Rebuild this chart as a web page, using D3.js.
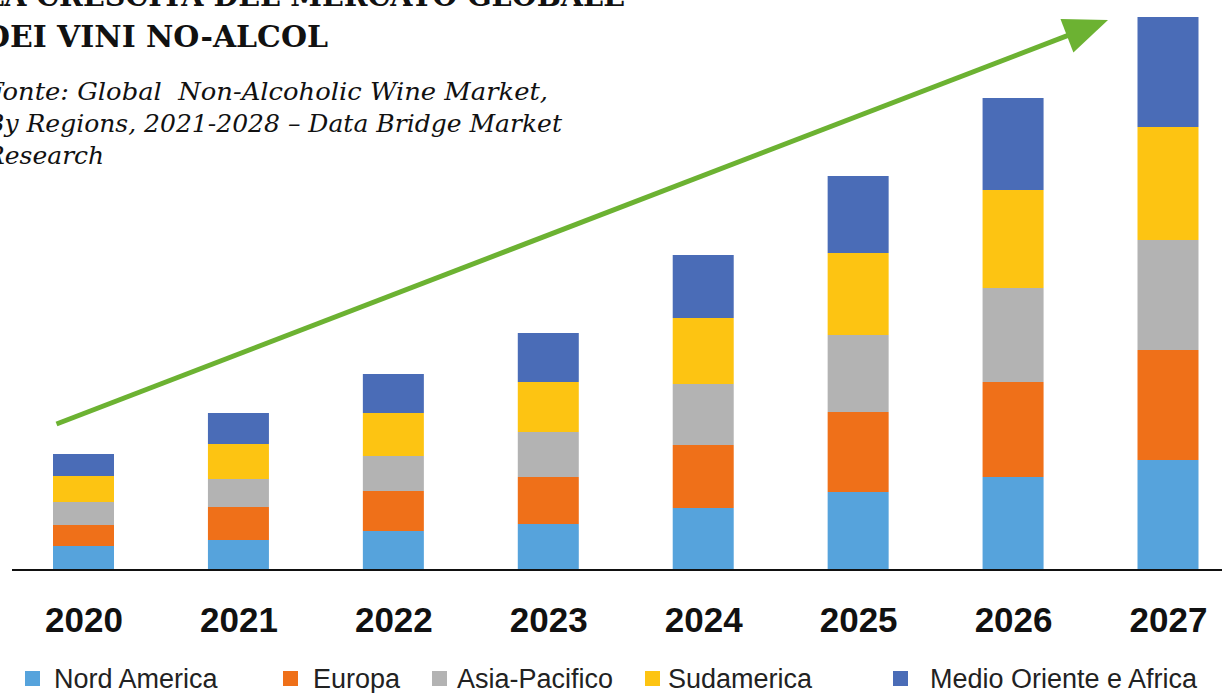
<!DOCTYPE html>
<html>
<head>
<meta charset="utf-8">
<script src="https://cdn.jsdelivr.net/npm/d3@7"></script>
<style>
  html, body { margin: 0; padding: 0; background: #ffffff; }
  svg { display: block; }
  text { white-space: pre; }
</style>
</head>
<body>
<svg id="chart" width="1222" height="693"></svg>
<script>
// ---- Data (arbitrary units) ----
const years = ["2020", "2021", "2022", "2023", "2024", "2025", "2026", "2027"];
const seriesNames = ["Nord America", "Europa", "Asia-Pacifico", "Sudamerica", "Medio Oriente e Africa"];
const nordAmerica   = [24, 30, 39, 46, 62, 78, 93, 110];
const europa        = [21, 33, 40, 47, 63, 80, 95, 110];
const asiaPacifico  = [23, 28, 35, 45, 61, 77, 94, 110];
const sudamerica    = [26, 35, 43, 50, 66, 82, 98, 113];
const medioOriente  = [22, 31, 39, 49, 63, 77, 92, 110];
const colors = ["#56a3dc", "#ef7019", "#b3b3b3", "#fdc412", "#4a6cb7"];
const titleLines = ["LA CRESCITA DEL MERCATO GLOBALE", "DEI VINI NO-ALCOL"];
const sourceLines = ["Fonte: Global  Non-Alcoholic Wine Market,", "By Regions, 2021-2028 \u2013 Data Bridge Market", "Research"];

const svg = d3.select("#chart");
const W = 1222, H = 693;
const baseY = 570, topY = 17;

const table = years.map((yr, i) => ({
  year: yr,
  "Nord America": nordAmerica[i],
  "Europa": europa[i],
  "Asia-Pacifico": asiaPacifico[i],
  "Sudamerica": sudamerica[i],
  "Medio Oriente e Africa": medioOriente[i]
}));
const stack = d3.stack().keys(seriesNames)(table);
const maxTotal = d3.max(stack[stack.length - 1], d => d[1]);

const x = d3.scalePoint().domain(years).range([83.5, 1168]);
const barW = 61;
const y = d3.scaleLinear().domain([0, maxTotal]).range([baseY, topY]);
const color = d3.scaleOrdinal().domain(seriesNames).range(colors);

// Bars
svg.append("g").selectAll("g").data(stack).join("g")
  .attr("fill", d => color(d.key))
  .selectAll("rect").data(d => d).join("rect")
  .attr("x", d => x(d.data.year) - barW / 2)
  .attr("width", barW)
  .attr("y", d => y(d[1]))
  .attr("height", d => y(d[0]) - y(d[1]));

// Baseline + year labels
const xAxis = d3.axisBottom(x).tickSize(0).tickPadding(37);
const axisG = svg.append("g").attr("transform", `translate(0,${baseY})`).call(xAxis);
axisG.select(".domain").remove();
axisG.append("line").attr("x1", 12).attr("x2", W).attr("y1", 0).attr("y2", 0)
  .attr("stroke", "#111").attr("stroke-width", 2);
axisG.selectAll(".tick text")
  .attr("font-family", "'Liberation Sans', Arial, sans-serif")
  .attr("font-weight", 700)
  .attr("font-size", 35)
  .attr("fill", "#111");

// Growth arrow (from above the first bar to beside the last bar)
const arrowStart = { year: "2020", value: 146, dx: -27 };
const arrowEnd = { year: "2027", value: 550, dx: -60 };
const sx = x(arrowStart.year) + arrowStart.dx, sy = y(arrowStart.value);
const ex = x(arrowEnd.year) + arrowEnd.dx, ey = y(arrowEnd.value);
const ang = Math.atan2(ey - sy, ex - sx);
const headL = 44, headW = 18;
const bx = ex - Math.cos(ang) * headL, by = ey - Math.sin(ang) * headL;
const green = "#6cb232";
svg.append("line")
  .attr("x1", sx).attr("y1", sy)
  .attr("x2", ex - Math.cos(ang) * (headL - 4)).attr("y2", ey - Math.sin(ang) * (headL - 4))
  .attr("stroke", green).attr("stroke-width", 5);
svg.append("path")
  .attr("d", d3.line()([
    [ex, ey],
    [bx + Math.sin(ang) * headW, by - Math.cos(ang) * headW],
    [bx - Math.sin(ang) * headW, by + Math.cos(ang) * headW]
  ]) + "Z")
  .attr("fill", green);

// Title
const titleLen = [641, 344];
svg.append("g").selectAll("text").data(titleLines).join("text")
  .attr("x", -16)
  .attr("y", (d, i) => 6 + i * 41)
  .attr("font-family", "'DejaVu Serif', serif")
  .attr("font-weight", 700)
  .attr("font-size", 30)
  .attr("textLength", (d, i) => titleLen[i])
  .attr("lengthAdjust", "spacingAndGlyphs")
  .attr("fill", "#111")
  .text(d => d);

// Source
const sourceLen = [562, 576, null];
svg.append("g").selectAll("text").data(sourceLines).join("text")
  .attr("x", -14)
  .attr("y", (d, i) => 100 + i * 32)
  .attr("font-family", "'DejaVu Serif', serif")
  .attr("font-style", "italic")
  .attr("font-size", 25)
  .attr("textLength", (d, i) => sourceLen[i])
  .attr("lengthAdjust", "spacingAndGlyphs")
  .attr("fill", "#111")
  .text(d => d);

// Legend
const legendX = [25, 283, 432, 645, 893];
const legendTextX = [54, 313, 457, 668, 930];
const lg = svg.append("g").selectAll("g").data(seriesNames).join("g");
lg.append("rect")
  .attr("x", (d, i) => legendX[i]).attr("y", 671)
  .attr("width", 15).attr("height", 15)
  .attr("fill", d => color(d));
lg.append("text")
  .attr("x", (d, i) => legendTextX[i]).attr("y", 688)
  .attr("font-family", "'Liberation Sans', Arial, sans-serif")
  .attr("font-size", 27)
  .attr("fill", "#222")
  .text(d => d);
</script>
</body>
</html>
